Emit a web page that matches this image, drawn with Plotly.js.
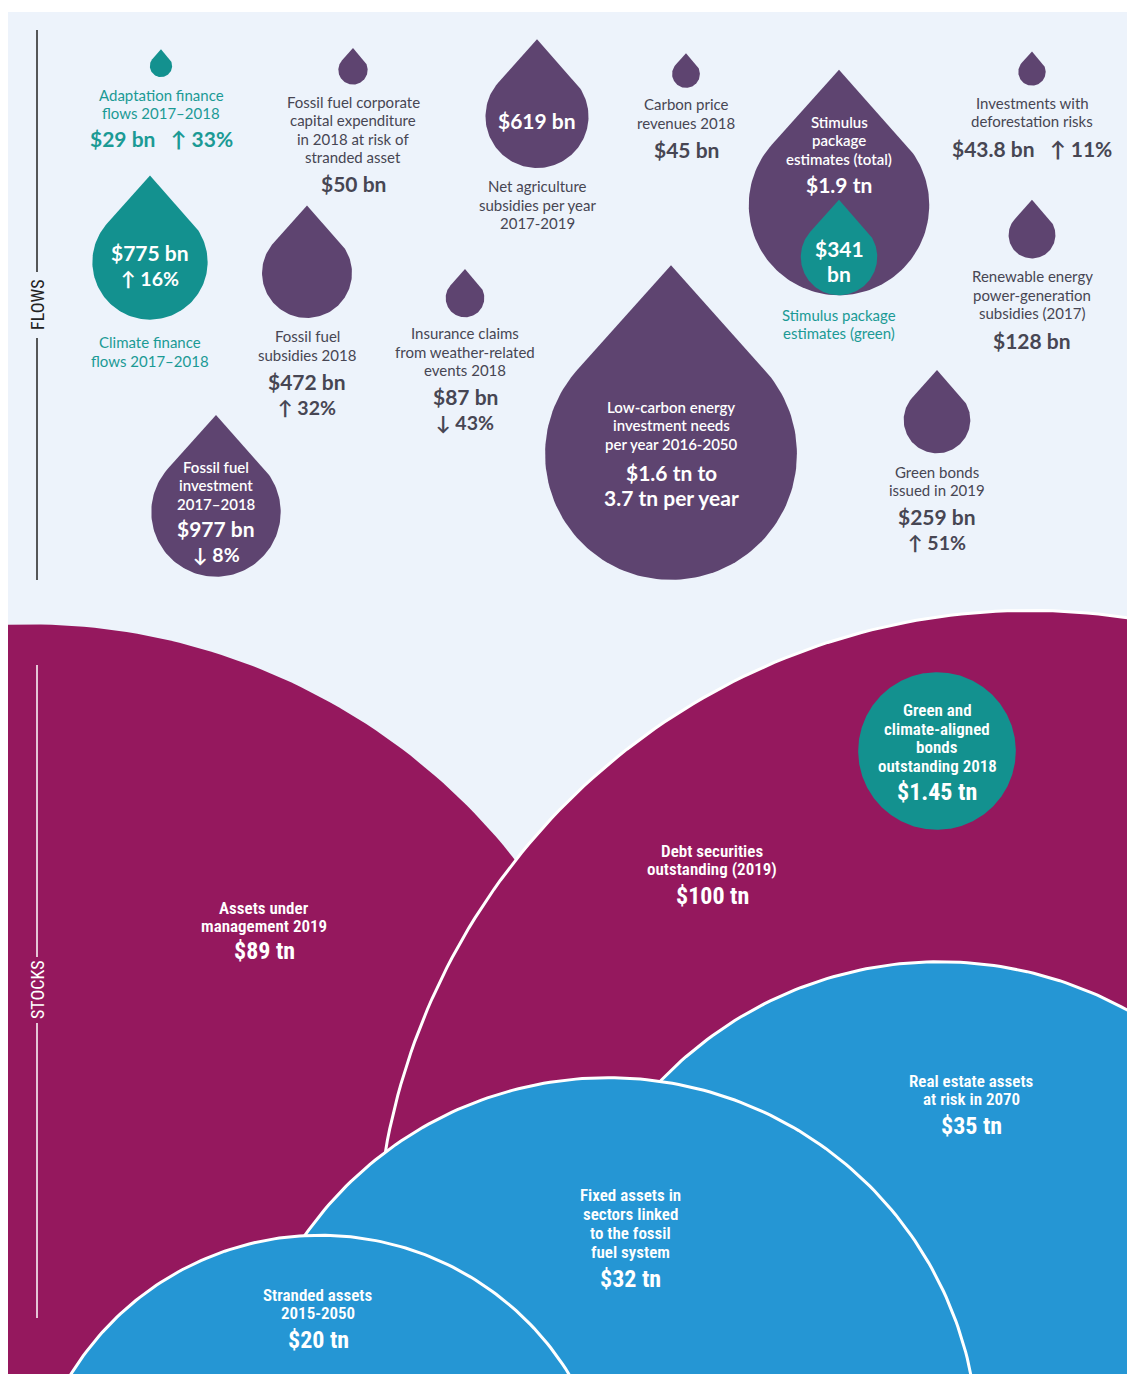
<!DOCTYPE html>
<html>
<head>
<meta charset="utf-8">
<script src="https://cdn.plot.ly/plotly-3.0.1.min.js"></script>
<style>
  html, body { margin: 0; padding: 0; background: #ffffff; }
  #chart { width: 1127px; height: 1374px; }
</style>
</head>
<body>
<div id="chart"></div>
<script>
// ---------------- DATA ----------------
// Flows (values in $ bn; drop area proportional to value)
const flowNames = [
  "Adaptation finance<br>flows 2017–2018",
  "Fossil fuel corporate<br>capital expenditure<br>in 2018 at risk of<br>stranded asset",
  "Net agriculture<br>subsidies per year<br>2017-2019",
  "Carbon price<br>revenues 2018",
  "Stimulus<br>package<br>estimates (total)",
  "Stimulus package<br>estimates (green)",
  "Investments with<br>deforestation risks",
  "Climate finance<br>flows 2017–2018",
  "Fossil fuel<br>subsidies 2018",
  "Insurance claims<br>from weather-related<br>events 2018",
  "Renewable energy<br>power-generation<br>subsidies (2017)",
  "Low-carbon energy<br>investment needs<br>per year 2016-2050",
  "Green bonds<br>issued in 2019",
  "Fossil fuel<br>investment<br>2017–2018"
];
const flowValuesBn = [29, 50, 619, 45, 1900, 341, 43.8, 775, 472, 87, 128, 3700, 259, 977];
const flowValueText = ["$29 bn", "$50 bn", "$619 bn", "$45 bn", "$1.9 tn", "$341<br>bn", "$43.8 bn",
  "$775 bn", "$472 bn", "$87 bn", "$128 bn", "$1.6 tn to<br>3.7 tn per year", "$259 bn", "$977 bn"];
const flowChange = ["↑ 33%", "", "", "", "", "", "↑ 11%", "↑ 16%", "↑ 32%", "↓ 43%", "", "", "↑ 51%", "↓ 8%"];
const flowKind = ["climate", "other", "other", "other", "other", "climate", "other",
  "climate", "other", "other", "other", "other", "other", "other"];

// Stocks (values in $ tn)
const stockNames = [
  "Assets under<br>management 2019",
  "Debt securities<br>outstanding (2019)",
  "Green and<br>climate-aligned<br>bonds<br>outstanding 2018",
  "Real estate assets<br>at risk in 2070",
  "Fixed assets in<br>sectors linked<br>to the fossil<br>fuel system",
  "Stranded assets<br>2015-2050"
];
const stockValuesTn = [89, 100, 1.45, 35, 32, 20];
const stockValueText = ["$89 tn", "$100 tn", "$1.45 tn", "$35 tn", "$32 tn", "$20 tn"];
const stockKind = ["finance", "finance", "climate", "risk", "risk", "risk"];

const sectionNames = ["FLOWS", "STOCKS"];

// ---------------- LAYOUT (positions / styles) ----------------
const W = 1127, H = 1374;
const K_BN = 2.07;                       // radius = K * sqrt(value in bn)
const rFromBn = v => K_BN * Math.sqrt(v);

const flowCX = [161, 353, 537, 686, 839, 839, 1032, 150, 307, 465, 1032, 671, 937, 216];
const flowCY = [66, 70, 116.5, 74, 205, 257, 72, 262, 273, 298, 235, 454, 420, 512];
const flowLabelY = [104, 129.5, 204.5, 113.5, 140, 324, 112, 351.5, 345.5, 351.5, 294.5, 425, 481, 485];
const flowLabelIn = [0, 0, 0, 0, 1, 0, 0, 0, 0, 0, 0, 1, 0, 1];
const flowValueY = [138, 183, 120, 149, 184, 260.5, 148, 252, 381, 396, 340, 485, 516, 528];
const flowValueIn = [0, 0, 1, 0, 1, 1, 0, 1, 0, 0, 0, 1, 0, 1];
const flowChangeY = [138, null, null, null, null, null, 148, 278, 407, 422, null, null, 542, 554];

const stockCX = [30, 1030, 937, 940, 608, 320];
const stockCY = [1242, 1265, 751, 1349, 1448, 1528];
const stockOutline = [0, 1, 0, 1, 1, 1];
const stockTextX = [264, 712, 937, 971, 630, 318];
const stockLabelY = [917, 860, 738, 1090, 1223.5, 1304];
const stockValueY = [951, 896, 792, 1126, 1279, 1340];

const COLORS = {
  bg: "#edf3fb",
  other: "#5e4470",
  climate: "#13918f",
  finance: "#95185e",
  risk: "#2596d4",
  grayText: "#474653",
  tealText: "#1b9a95"
};
const FLOW_FONT = "Lato, 'Open Sans', 'Noto Sans', sans-serif";
const STOCK_FONT = "'Liberation Sans Narrow', 'Roboto Condensed', 'DejaVu Sans Condensed', Roboto, sans-serif";

// ---------------- GEOMETRY HELPERS ----------------
function dropPoly(cx, cy, r) {
  const d = 1.5 * r, th = Math.acos(r / d);
  const xs = [cx], ys = [cy - d];
  const n = 120;
  for (let i = 0; i <= n; i++) {
    const p = th + (2 * Math.PI - 2 * th) * i / n;
    xs.push(cx + r * Math.sin(p));
    ys.push(cy - r * Math.cos(p));
  }
  xs.push(cx); ys.push(cy - d);
  return [xs, ys];
}
function circlePoly(cx, cy, r) {
  const xs = [], ys = [];
  const n = 360;
  for (let i = 0; i <= n; i++) {
    const p = 2 * Math.PI * i / n;
    xs.push(cx + r * Math.cos(p));
    ys.push(cy + r * Math.sin(p));
  }
  return [xs, ys];
}

const traces = [];
const annotations = [];

function addLines(text, x, yCenter, gap, font) {
  const lines = text.split("<br>");
  const n = lines.length;
  lines.forEach((ln, i) => {
    annotations.push({
      x: x, y: yCenter + (i - (n - 1) / 2) * gap, xref: "x", yref: "y",
      text: ln, showarrow: false, xanchor: "center", yanchor: "middle",
      font: font
    });
  });
}

// ---------------- STOCKS ----------------
stockValuesTn.forEach((v, i) => {
  const r = rFromBn(v * 1000);
  const [xs, ys] = circlePoly(stockCX[i], stockCY[i], r);
  traces.push({
    type: "scatter", mode: "lines", x: xs, y: ys, fill: "toself",
    fillcolor: COLORS[stockKind[i]],
    line: { color: stockOutline[i] ? "#ffffff" : COLORS[stockKind[i]], width: stockOutline[i] ? 3 : 0 },
    hoverinfo: "skip", showlegend: false
  });
  addLines(stockNames[i], stockTextX[i], stockLabelY[i], 18.7,
    { family: STOCK_FONT, size: 17, color: "#ffffff", weight: 600 });
  addLines(stockValueText[i], stockTextX[i], stockValueY[i], 24,
    { family: STOCK_FONT, size: 24, color: "#ffffff", weight: 700 });
});

// ---------------- FLOWS ----------------
flowValuesBn.forEach((v, i) => {
  const r = rFromBn(v);
  const [xs, ys] = dropPoly(flowCX[i], flowCY[i], r);
  traces.push({
    type: "scatter", mode: "lines", x: xs, y: ys, fill: "toself",
    fillcolor: COLORS[flowKind[i]], line: { width: 0, color: COLORS[flowKind[i]] },
    hoverinfo: "skip", showlegend: false
  });
  const outColor = flowKind[i] === "climate" ? COLORS.tealText : COLORS.grayText;
  addLines(flowNames[i], flowCX[i], flowLabelY[i], 18.5,
    { family: FLOW_FONT, size: 15, color: flowLabelIn[i] ? "#ffffff" : outColor, weight: flowLabelIn[i] ? 600 : 400 });
  let vt = flowValueText[i];
  if (flowChange[i] && flowChangeY[i] === flowValueY[i]) vt = vt + "&nbsp;&nbsp;&nbsp;" + flowChange[i];
  addLines(vt, flowCX[i], flowValueY[i], 25,
    { family: FLOW_FONT, size: 21, color: flowValueIn[i] ? "#ffffff" : outColor, weight: 700 });
  if (flowChange[i] && flowChangeY[i] !== flowValueY[i]) {
    addLines(flowChange[i], flowCX[i], flowChangeY[i], 25,
      { family: FLOW_FONT, size: 19.5, color: flowValueIn[i] ? "#ffffff" : outColor, weight: 700 });
  }
});

// ---------------- SECTION LABELS ----------------
const secX = 37;
const secLineSegs = [[[30, 272], [338, 580]], [[665, 957], [1023, 1318]]];
const secLabelY = [305, 990];
const secColor = ["#222222", "#ffffff"];
sectionNames.forEach((s, i) => {
  secLineSegs[i].forEach(seg => {
    traces.push({
      type: "scatter", mode: "lines", x: [secX, secX], y: seg,
      line: { color: secColor[i], width: 1.5 }, hoverinfo: "skip", showlegend: false
    });
  });
  annotations.push({
    x: secX, y: secLabelY[i], xref: "x", yref: "y", text: s, showarrow: false,
    textangle: -90, xanchor: "center", yanchor: "middle",
    font: { family: STOCK_FONT, size: 18, color: secColor[i] }
  });
});

const layout = {
  width: W, height: H,
  margin: { l: 8, r: 0, t: 12, b: 0, pad: 0 },
  paper_bgcolor: "#ffffff",
  plot_bgcolor: COLORS.bg,
  xaxis: { range: [8, W], visible: false, fixedrange: true },
  yaxis: { range: [H, 12], visible: false, fixedrange: true },
  showlegend: false,
  annotations: annotations
};

Plotly.newPlot("chart", traces, layout, { staticPlot: true, displayModeBar: false });
</script>
</body>
</html>
